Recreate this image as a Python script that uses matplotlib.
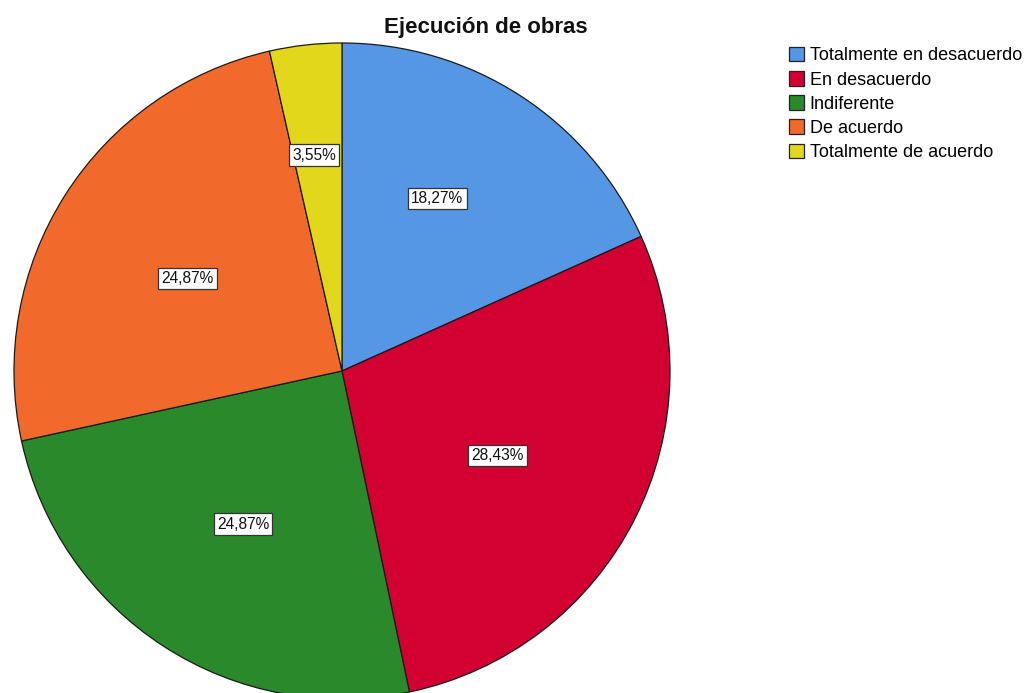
import matplotlib
matplotlib.use("Agg")
import matplotlib.pyplot as plt
import matplotlib.patches as mpatches
import numpy as np

categories = ["Totalmente en desacuerdo", "En desacuerdo", "Indiferente",
              "De acuerdo", "Totalmente de acuerdo"]
values = [18.27, 28.43, 24.87, 24.87, 3.55]
labels = ["18,27%", "28,43%", "24,87%", "24,87%", "3,55%"]
colors = ["#5597E4", "#D30032", "#2A8A2B", "#F26A2B", "#E2D71B"]
# label placement: radius fraction and angle offset (deg) from wedge middle
label_radius = [0.602, 0.540, 0.556, 0.548, 0.664]
label_dang = [4.0, -1.6, 0.0, 1.6, 1.0]

plt.rcParams['font.family'] = ['Liberation Sans', 'DejaVu Sans']

W, H = 1033, 693
fig = plt.figure(figsize=(W / 100, H / 100), dpi=100)
cx, cy, r = 342, 371, 328
ax = fig.add_axes([(cx - r) / W, (H - cy - r) / H, 2 * r / W, 2 * r / H])

wedges, _ = ax.pie(values, colors=colors, startangle=90, counterclock=False,
                   radius=1.0,
                   wedgeprops=dict(edgecolor="#1a1a1a", linewidth=0.9))
ax.set_xlim(-1, 1)
ax.set_ylim(-1, 1)
ax.set_aspect('equal')
ax.axis('off')

for w, lab, lr, da in zip(wedges, labels, label_radius, label_dang):
    ang = np.deg2rad((w.theta1 + w.theta2) / 2 + da)
    ax.text(lr * np.cos(ang), lr * np.sin(ang), lab, ha='center', va='center',
            fontsize=11.2, color='#111111',
            bbox=dict(boxstyle='square,pad=0.2', facecolor='white',
                      edgecolor='#333333', linewidth=0.9))

fig.text(486 / W, 1 - 27 / H, "Ejecución de obras", ha='center', va='center',
         fontsize=16, fontweight='bold', color='#111111')

handles = [mpatches.Patch(facecolor=c, edgecolor='#222222', linewidth=0.9)
           for c in colors]
fig.legend(handles, categories, loc='upper left',
           bbox_to_anchor=(789 / W, 1 - 47 / H), frameon=False,
           fontsize=13, handlelength=0.85, handleheight=0.85,
           handletextpad=0.3, labelspacing=0.37, borderpad=0, borderaxespad=0)

fig.savefig("out.png", dpi=100, facecolor='white')
